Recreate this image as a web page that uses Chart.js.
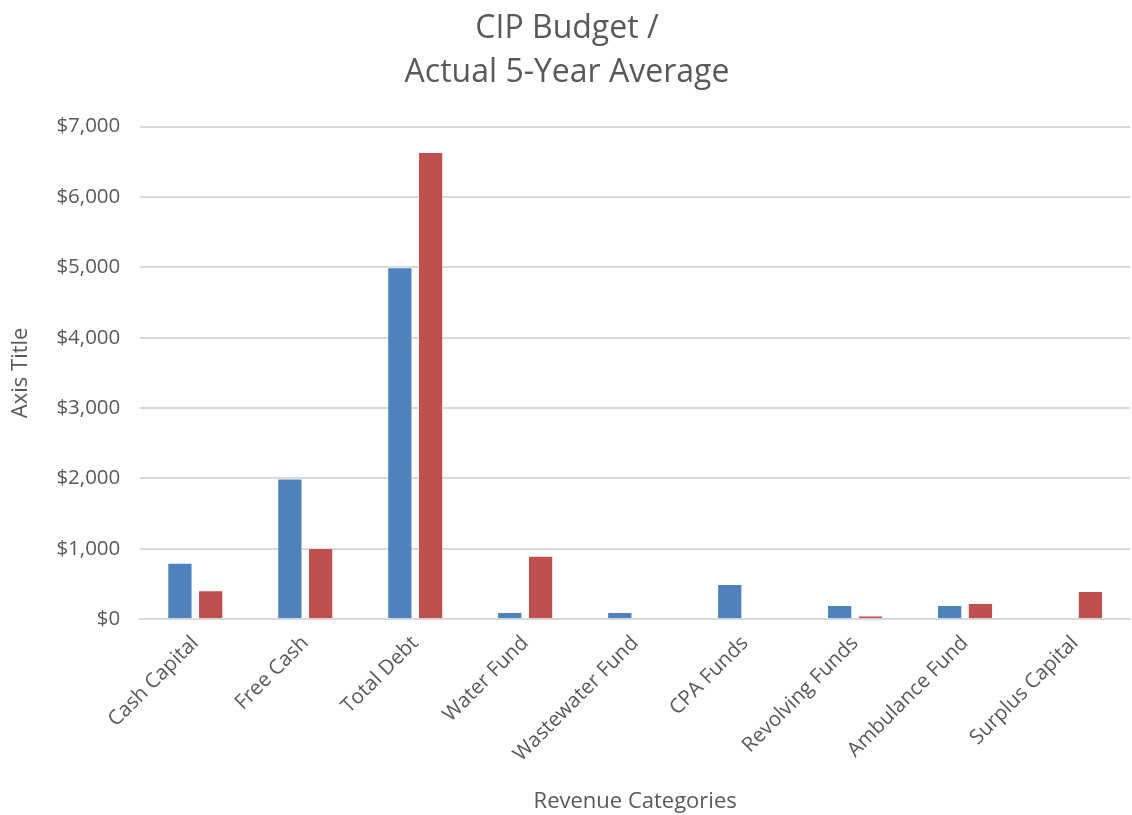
<!DOCTYPE html>
<html>
<head>
<meta charset="utf-8">
<script src="https://cdn.jsdelivr.net/npm/chart.js@4.4.1/dist/chart.umd.min.js"></script>
<style>
  html, body { margin: 0; padding: 0; background: #fff; }
  #wrap { width: 1132px; height: 815px; position: relative; }
</style>
</head>
<body>
<div id="wrap"><canvas id="chart"></canvas></div>
<script>
// revenue categories and the two series (in $)
const categories = ['Cash Capital', 'Free Cash', 'Total Debt', 'Water Fund', 'Wastewater Fund',
                    'CPA Funds', 'Revolving Funds', 'Ambulance Fund', 'Surplus Capital'];
const budget = [800, 2000, 5000, 100, 100, 500, 200, 200, 0];
const actual = [410, 1010, 6640, 900, 0, 0, 50, 230, 400];
const yMin = 0;
const yMax = 7000;
const yStep = 1000;

const grey = '#595959';
const fontFamily = '"Open Sans", "Noto Sans", sans-serif';

const ctx = document.getElementById('chart');
chart = new Chart(ctx, {
  type: 'bar',
  data: {
    labels: categories,
    datasets: [{
      label: 'Budget',
      data: budget,
      backgroundColor: '#4F81BD',
      borderColor: 'rgba(255,255,255,0.35)',
      borderWidth: 1,
      categoryPercentage: 0.56,
      barPercentage: 0.82
    }, {
      label: 'Actual',
      data: actual,
      backgroundColor: '#C0504D',
      borderColor: 'rgba(255,255,255,0.35)',
      borderWidth: 1,
      categoryPercentage: 0.56,
      barPercentage: 0.82
    }]
  },
  options: {
    responsive: true,
    maintainAspectRatio: false,
    animation: false,
    layout: { padding: { left: 4, right: 2, top: 6, bottom: 0 } },
    plugins: {
      legend: { display: false },
      tooltip: { enabled: false },
      title: {
        display: true,
        text: ['CIP Budget /', 'Actual 5-Year Average'],
        color: grey,
        font: { family: fontFamily, size: 32, weight: 'normal', lineHeight: 1.4 },
        padding: { top: 0, bottom: 31 }
      }
    },
    scales: {
      x: {
        grid: { display: false },
        border: { display: true, color: '#d9d9d9', width: 2 },
        ticks: {
          color: grey,
          font: { family: fontFamily, size: 20.5 },
          minRotation: 45,
          maxRotation: 45,
          padding: 4
        },
        title: {
          display: true,
          text: 'Revenue Categories',
          color: grey,
          font: { family: fontFamily, size: 22 },
          padding: { top: 18, bottom: 0 }
        }
      },
      y: {
        min: yMin,
        max: yMax,
        grid: { color: '#d9d9d9', lineWidth: 2, drawTicks: false },
        border: { display: false },
        ticks: {
          stepSize: yStep,
          color: grey,
          font: { family: fontFamily, size: 20.5 },
          padding: 20,
          callback: v => '$' + v.toLocaleString('en-US')
        },
        title: {
          display: true,
          text: 'Axis Title',
          color: grey,
          font: { family: fontFamily, size: 22 },
          padding: { bottom: 2 }
        }
      }
    }
  }
});
</script>
</body>
</html>
